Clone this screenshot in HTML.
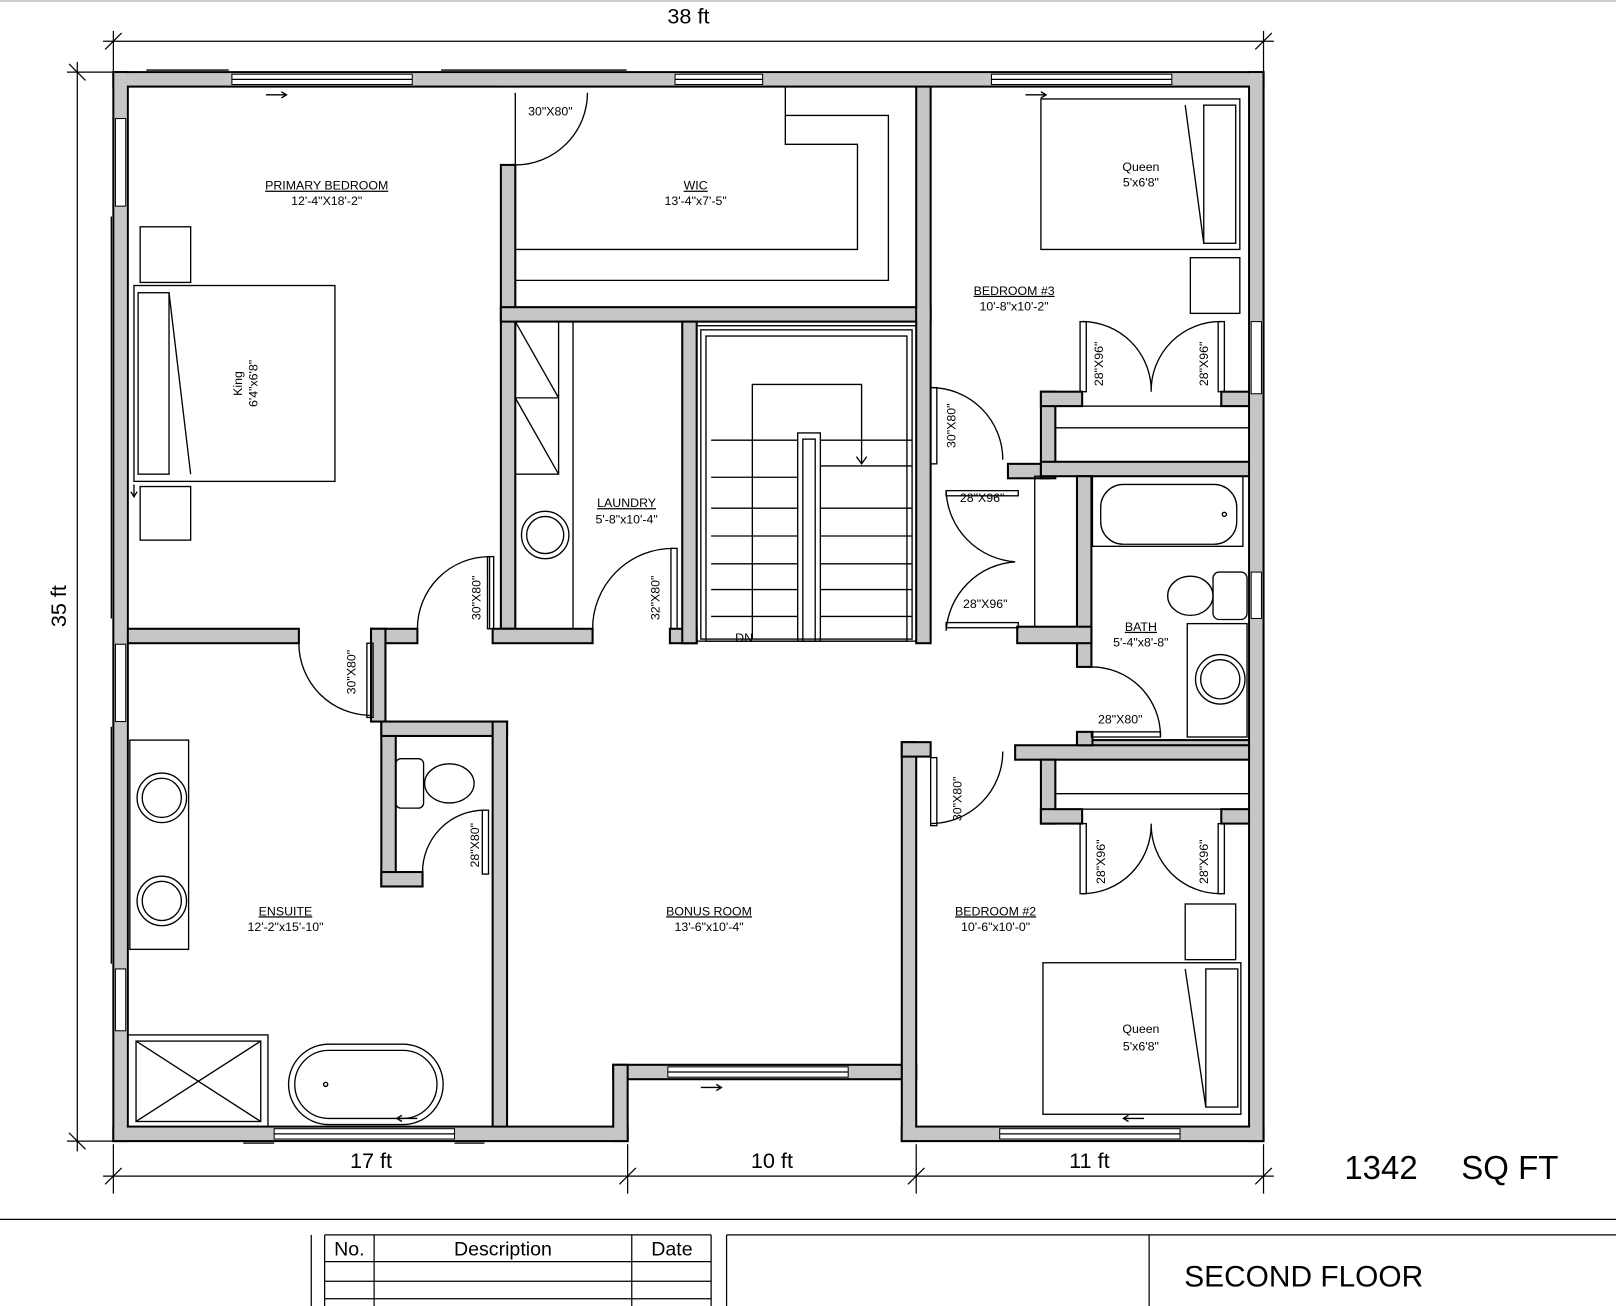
<!DOCTYPE html>
<html><head><meta charset="utf-8"><style>
html,body{margin:0;padding:0;background:#fff;}
svg{display:block}
text{font-family:"Liberation Sans",Arial,sans-serif;fill:#000}
.w{fill:#c6c6c6;stroke:#000;stroke-width:2}
.l{fill:none;stroke:#000;stroke-width:1.3}
.t{font-size:12px;text-anchor:middle}
.d{fill:none;stroke:#000;stroke-width:1.2}
</style></head><body>
<svg width="1616" height="1306" viewBox="0 0 1568 1267" preserveAspectRatio="none">
<rect width="1568" height="1267" fill="#fff"/>
<line x1="0" y1="1" x2="1568" y2="1" stroke="#999"/>
<g class="d">
<line x1="100" y1="40" x2="1236" y2="40"/><line x1="110" y1="30" x2="110" y2="70"/><line x1="1226" y1="30" x2="1226" y2="70"/>
<line x1="102" y1="48" x2="118" y2="32"/><line x1="1218" y1="48" x2="1234" y2="32"/>
<line x1="75" y1="60" x2="75" y2="1117"/><line x1="65" y1="70" x2="110" y2="70"/><line x1="65" y1="1107" x2="110" y2="1107"/>
<line x1="67" y1="62" x2="83" y2="78"/><line x1="67" y1="1099" x2="83" y2="1115"/>
<line x1="100" y1="1141" x2="1236" y2="1141"/>
<line x1="110" y1="1110" x2="110" y2="1158"/><line x1="609" y1="1110" x2="609" y2="1158"/><line x1="889" y1="1110" x2="889" y2="1158"/><line x1="1226" y1="1110" x2="1226" y2="1158"/>
<line x1="102" y1="1149" x2="118" y2="1133"/><line x1="601" y1="1149" x2="617" y2="1133"/><line x1="881" y1="1149" x2="897" y2="1133"/><line x1="1218" y1="1149" x2="1234" y2="1133"/>
</g>
<text x="668" y="23" font-size="21" text-anchor="middle">38 ft</text>
<text x="64" y="588" font-size="21" text-anchor="middle" transform="rotate(-90 64 588)">35 ft</text>
<text x="360" y="1133" font-size="21" text-anchor="middle">17 ft</text>
<text x="749" y="1133" font-size="21" text-anchor="middle">10 ft</text>
<text x="1057" y="1133" font-size="21" text-anchor="middle">11 ft</text>
<text x="1340" y="1144" font-size="32" text-anchor="middle">1342</text>
<text x="1465" y="1144" font-size="32" text-anchor="middle">SQ FT</text>

<g class="w">
<rect x="110" y="70" width="1116" height="14"/>
<rect x="110" y="70" width="14" height="1037"/>
<rect x="1212" y="70" width="14" height="1037"/>
<rect x="110" y="1093" width="499" height="14"/>
<rect x="875" y="1093" width="351" height="14"/>
<rect x="595" y="1033" width="294" height="14"/>
<rect x="595" y="1033" width="14" height="74"/>
<rect x="875" y="720" width="14" height="387"/>
<rect x="875" y="720" width="28" height="14"/>
<rect x="124" y="610" width="166" height="14"/>
<rect x="360" y="610" width="45" height="14"/>
<rect x="360" y="610" width="14" height="90"/>
<rect x="370" y="700" width="14" height="160"/>
<rect x="370" y="700" width="122" height="14"/>
<rect x="370" y="846" width="40" height="14"/>
<rect x="478" y="700" width="14" height="393"/>
<rect x="486" y="160" width="14" height="450"/>
<rect x="478" y="610" width="97" height="14"/>
<rect x="486" y="298" width="417" height="14"/>
<rect x="650" y="610" width="26" height="14"/>
<rect x="662" y="312" width="14" height="312"/>
<rect x="889" y="84" width="14" height="540"/>
<rect x="978" y="450" width="40" height="14"/>
<rect x="1010" y="380" width="14" height="84"/>
<rect x="1010" y="380" width="40" height="14"/>
<rect x="1185" y="380" width="27" height="14"/>
<rect x="1010" y="448" width="202" height="14"/>
<rect x="1045" y="462" width="14" height="185"/>
<rect x="987" y="608" width="72" height="16"/>
<rect x="1045" y="718" width="167" height="14"/>
<rect x="985" y="723" width="227" height="14"/>
<rect x="1010" y="737" width="14" height="62"/>
<rect x="1010" y="785" width="40" height="14"/>
<rect x="1185" y="785" width="27" height="14"/>
<rect x="1045" y="710" width="15" height="13"/>
</g>
<g fill="#c6c6c6">
<rect x="111" y="71" width="1114" height="12"/><rect x="111" y="71" width="12" height="1035"/><rect x="1213" y="71" width="12" height="1035"/>
<rect x="111" y="1094" width="497" height="12"/><rect x="876" y="1094" width="349" height="12"/>
<rect x="890" y="299" width="12" height="12"/>
</g>
<g class="l">
<line x1="124" y1="84" x2="486" y2="84"/><line x1="500" y1="84" x2="889" y2="84"/><line x1="903" y1="84" x2="1212" y2="84"/>
<line x1="124" y1="84" x2="124" y2="610"/><line x1="124" y1="624" x2="124" y2="1093"/>
<line x1="1212" y1="84" x2="1212" y2="1093"/>
<line x1="124" y1="1093" x2="478" y2="1093"/><line x1="903" y1="1093" x2="1212" y2="1093"/>
<line x1="110" y1="70" x2="1226" y2="70"/><line x1="110" y1="70" x2="110" y2="1107"/><line x1="1226" y1="70" x2="1226" y2="1107"/>
<line x1="110" y1="1107" x2="609" y2="1107"/><line x1="875" y1="1107" x2="1226" y2="1107"/>
</g>
<g fill="#fff" stroke="#000" stroke-width="1">
<rect x="225" y="72" width="175" height="10"/><rect x="655" y="72" width="85" height="10"/>
<rect x="962" y="72" width="175" height="10"/>
<rect x="112" y="115" width="10" height="85"/><rect x="112" y="625" width="10" height="75"/><rect x="112" y="940" width="10" height="60"/>
<rect x="1214" y="312" width="10" height="70"/><rect x="1214" y="555" width="10" height="45"/>
<rect x="266" y="1095" width="175" height="10"/><rect x="970" y="1095" width="175" height="10"/>
<rect x="648" y="1035" width="175" height="10"/>
</g>
<g class="l">
<line x1="225" y1="77" x2="400" y2="77"/><line x1="655" y1="77" x2="740" y2="77"/><line x1="962" y1="77" x2="1137" y2="77"/>
<line x1="266" y1="1100" x2="441" y2="1100"/><line x1="970" y1="1100" x2="1145" y2="1100"/><line x1="648" y1="1040" x2="823" y2="1040"/>
<line x1="142" y1="68" x2="222" y2="68"/><line x1="428" y1="68" x2="608" y2="68"/>
<line x1="108" y1="210" x2="108" y2="600"/><line x1="108" y1="705" x2="108" y2="935"/>
<line x1="236" y1="1109" x2="266" y2="1109"/><line x1="441" y1="1109" x2="470" y2="1109"/>
</g>
<g class="l">
<path d="M500 90 L500 160 M500 160 A70 70 0 0 0 570 90"/>
<path d="M290 624 A70 70 0 0 0 360 694 L360 624"/>
<rect x="356" y="624" width="6" height="72"/>
<path d="M405 610 A70 70 0 0 1 475 540 L475 610"/><rect x="473" y="540" width="6" height="70"/>
<path d="M575 610 A78 78 0 0 1 653 532"/><rect x="651" y="532" width="6" height="78"/>
<path d="M410 846 A60 60 0 0 1 470 786"/><rect x="468" y="786" width="6" height="62"/>
<path d="M903 376 A70 70 0 0 1 973 446"/><rect x="903" y="376" width="6" height="74"/>
<path d="M903 799 A70 70 0 0 0 973 729"/><rect x="903" y="735" width="6" height="66"/>
<path d="M918 477 A72 72 0 0 0 985 545 A72 72 0 0 0 918 612"/>
<rect x="918" y="476" width="70" height="5"/><rect x="918" y="604" width="70" height="5"/>
<path d="M1050 312 A67 67 0 0 1 1117 380 A67 67 0 0 1 1185 312"/>
<rect x="1048" y="312" width="6" height="68"/><rect x="1182" y="312" width="6" height="68"/>
<path d="M1050 867 A67 67 0 0 0 1117 799 A67 67 0 0 0 1185 867"/>
<rect x="1048" y="799" width="6" height="68"/><rect x="1182" y="799" width="6" height="68"/>
<path d="M1059 647 A67 67 0 0 1 1126 714"/><rect x="1059" y="710" width="67" height="5"/>
</g>
<g class="l">
<rect x="1024" y="394" width="188" height="54"/><line x1="1024" y1="415" x2="1212" y2="415"/>
<rect x="1024" y="737" width="188" height="48"/><line x1="1024" y1="770" x2="1212" y2="770"/>
<rect x="1004" y="462" width="41" height="146"/>
<polyline points="762,84 762,140 832,140 832,242 500,242"/>
<polyline points="762,112 862,112 862,272 500,272"/>
<rect x="500" y="312" width="42" height="148"/><line x1="500" y1="312" x2="542" y2="386"/><line x1="500" y1="386" x2="542" y2="460"/><line x1="500" y1="386" x2="542" y2="386"/>
<line x1="556" y1="312" x2="556" y2="610"/>
<circle cx="529" cy="519" r="23"/><circle cx="529" cy="519" r="18"/>
<rect x="676" y="316" width="213" height="306"/><rect x="680" y="320" width="205" height="300"/><rect x="685" y="326" width="195" height="296"/>
<line x1="690" y1="427" x2="774" y2="427"/><line x1="690" y1="463" x2="774" y2="463"/><line x1="690" y1="493" x2="774" y2="493"/><line x1="690" y1="520" x2="774" y2="520"/><line x1="690" y1="547" x2="774" y2="547"/><line x1="690" y1="572" x2="774" y2="572"/><line x1="690" y1="598" x2="774" y2="598"/>
<line x1="796" y1="427" x2="885" y2="427"/><line x1="796" y1="452" x2="885" y2="452"/><line x1="796" y1="493" x2="885" y2="493"/><line x1="796" y1="520" x2="885" y2="520"/><line x1="796" y1="547" x2="885" y2="547"/><line x1="796" y1="572" x2="885" y2="572"/><line x1="796" y1="598" x2="885" y2="598"/>
<rect x="774" y="420" width="22" height="202"/><rect x="779" y="426" width="12" height="196"/>
<polyline points="730,620 730,373 836,373 836,450"/><polyline points="831,443 836,450 841,443"/>
<rect x="136" y="220" width="49" height="54"/><rect x="136" y="472" width="49" height="52"/>
<rect x="130" y="277" width="195" height="190"/><rect x="134" y="284" width="30" height="176"/>
<line x1="164" y1="284" x2="185" y2="460"/>
<rect x="1010" y="96" width="193" height="146"/><rect x="1168" y="102" width="31" height="134"/><line x1="1150" y1="102" x2="1168" y2="236"/>
<rect x="1155" y="250" width="48" height="54"/>
<rect x="1150" y="877" width="49" height="54"/>
<rect x="1012" y="934" width="192" height="147"/><rect x="1170" y="940" width="31" height="134"/><line x1="1150" y1="940" x2="1170" y2="1074"/>
<rect x="1060" y="462" width="146" height="68"/><rect x="1068" y="470" width="132" height="58" rx="22"/>
<circle cx="1188" cy="499" r="2"/>
<ellipse cx="1155" cy="578" rx="22" ry="19"/><rect x="1177" y="555" width="33" height="46" rx="6"/>
<rect x="1152" y="605" width="58" height="110"/><circle cx="1184" cy="659" r="24"/><circle cx="1184" cy="659" r="19"/>
<rect x="126" y="718" width="57" height="203"/>
<circle cx="157" cy="774" r="24"/><circle cx="157" cy="774" r="19"/>
<circle cx="157" cy="874" r="24"/><circle cx="157" cy="874" r="19"/>
<rect x="124" y="1004" width="136" height="89"/><rect x="132" y="1010" width="121" height="78"/>
<line x1="132" y1="1010" x2="253" y2="1088"/><line x1="253" y1="1010" x2="132" y2="1088"/>
<rect x="280" y="1013" width="150" height="78" rx="39"/><rect x="286" y="1019" width="138" height="66" rx="33"/>
<circle cx="316" cy="1052" r="2"/>
<rect x="384" y="736" width="27" height="48" rx="5"/><ellipse cx="436" cy="760" rx="24" ry="19"/>
<path d="M258 92 L278 92 M273 89 L278 92 L273 95"/><path d="M995 92 L1015 92 M1010 89 L1015 92 L1010 95"/>
<path d="M680 1055 L700 1055 M695 1052 L700 1055 L695 1058"/>
<path d="M1110 1085 L1090 1085 M1095 1082 L1090 1085 L1095 1088"/>
<path d="M405 1085 L385 1085 M390 1082 L385 1085 L390 1088"/>
<path d="M130 470 L130 482 M127 477 L130 482 L133 477"/>
</g>
<text class="t" x="317" y="184" text-decoration="underline">PRIMARY BEDROOM</text>
<text class="t" x="317" y="199">12'-4"X18'-2"</text>
<text class="t" x="675" y="184" text-decoration="underline">WIC</text>
<text class="t" x="675" y="199">13'-4"x7'-5"</text>
<text class="t" x="534" y="112">30"X80"</text>
<text class="t" x="1107" y="166">Queen</text><text class="t" x="1107" y="181">5'x6'8"</text>
<text class="t" x="984" y="286" text-decoration="underline">BEDROOM #3</text>
<text class="t" x="984" y="301">10'-8"x10'-2"</text>
<text class="t" x="608" y="492" text-decoration="underline">LAUNDRY</text>
<text class="t" x="608" y="508">5'-8"x10'-4"</text>
<text class="t" x="953" y="487">28"X96"</text>
<text class="t" x="956" y="590">28"X96"</text>
<text class="t" x="1107" y="612" text-decoration="underline">BATH</text>
<text class="t" x="1107" y="627">5'-4"x8'-8"</text>
<text class="t" x="1087" y="702">28"X80"</text>
<text class="t" x="722" y="623">DN</text>
<text class="t" x="277" y="888" text-decoration="underline">ENSUITE</text>
<text class="t" x="277" y="903">12'-2"x15'-10"</text>
<text class="t" x="688" y="888" text-decoration="underline">BONUS ROOM</text>
<text class="t" x="688" y="903">13'-6"x10'-4"</text>
<text class="t" x="966" y="888" text-decoration="underline">BEDROOM #2</text>
<text class="t" x="966" y="903">10'-6"x10'-0"</text>
<text class="t" x="1107" y="1002">Queen</text><text class="t" x="1107" y="1019">5'x6'8"</text>
<g font-size="12" text-anchor="middle">
<text x="0" y="0" transform="translate(235 372) rotate(-90)">King</text>
<text x="0" y="0" transform="translate(250 372) rotate(-90)">6'4"x6'8"</text>
<text x="0" y="0" transform="translate(466 580) rotate(-90)">30"X80"</text>
<text x="0" y="0" transform="translate(640 580) rotate(-90)">32"X80"</text>
<text x="0" y="0" transform="translate(345 652) rotate(-90)">30"X80"</text>
<text x="0" y="0" transform="translate(465 820) rotate(-90)">28"X80"</text>
<text x="0" y="0" transform="translate(927 413) rotate(-90)">30"X80"</text>
<text x="0" y="0" transform="translate(933 775) rotate(-90)">30"X80"</text>
<text x="0" y="0" transform="translate(1070 353) rotate(-90)">28"X96"</text>
<text x="0" y="0" transform="translate(1172 353) rotate(-90)">28"X96"</text>
<text x="0" y="0" transform="translate(1072 836) rotate(-90)">28"X96"</text>
<text x="0" y="0" transform="translate(1172 836) rotate(-90)">28"X96"</text>
</g>
<g class="d" stroke="#555">
<line x1="0" y1="1183" x2="1568" y2="1183"/>
<line x1="302" y1="1198" x2="302" y2="1267"/><line x1="315" y1="1198" x2="315" y2="1267"/>
<line x1="315" y1="1198" x2="690" y2="1198"/><line x1="690" y1="1198" x2="690" y2="1267"/>
<line x1="315" y1="1224" x2="690" y2="1224"/><line x1="315" y1="1243" x2="690" y2="1243"/><line x1="315" y1="1260" x2="690" y2="1260"/>
<line x1="363" y1="1198" x2="363" y2="1267"/><line x1="613" y1="1198" x2="613" y2="1267"/>
<line x1="705" y1="1198" x2="705" y2="1267"/><line x1="705" y1="1198" x2="1568" y2="1198"/>
<line x1="1115" y1="1198" x2="1115" y2="1267"/>
</g>
<text x="339" y="1218" font-size="19" text-anchor="middle">No.</text>
<text x="488" y="1218" font-size="19" text-anchor="middle">Description</text>
<text x="652" y="1218" font-size="19" text-anchor="middle">Date</text>
<text x="1265" y="1248" font-size="29" text-anchor="middle">SECOND FLOOR</text>
</svg>
</body></html>
